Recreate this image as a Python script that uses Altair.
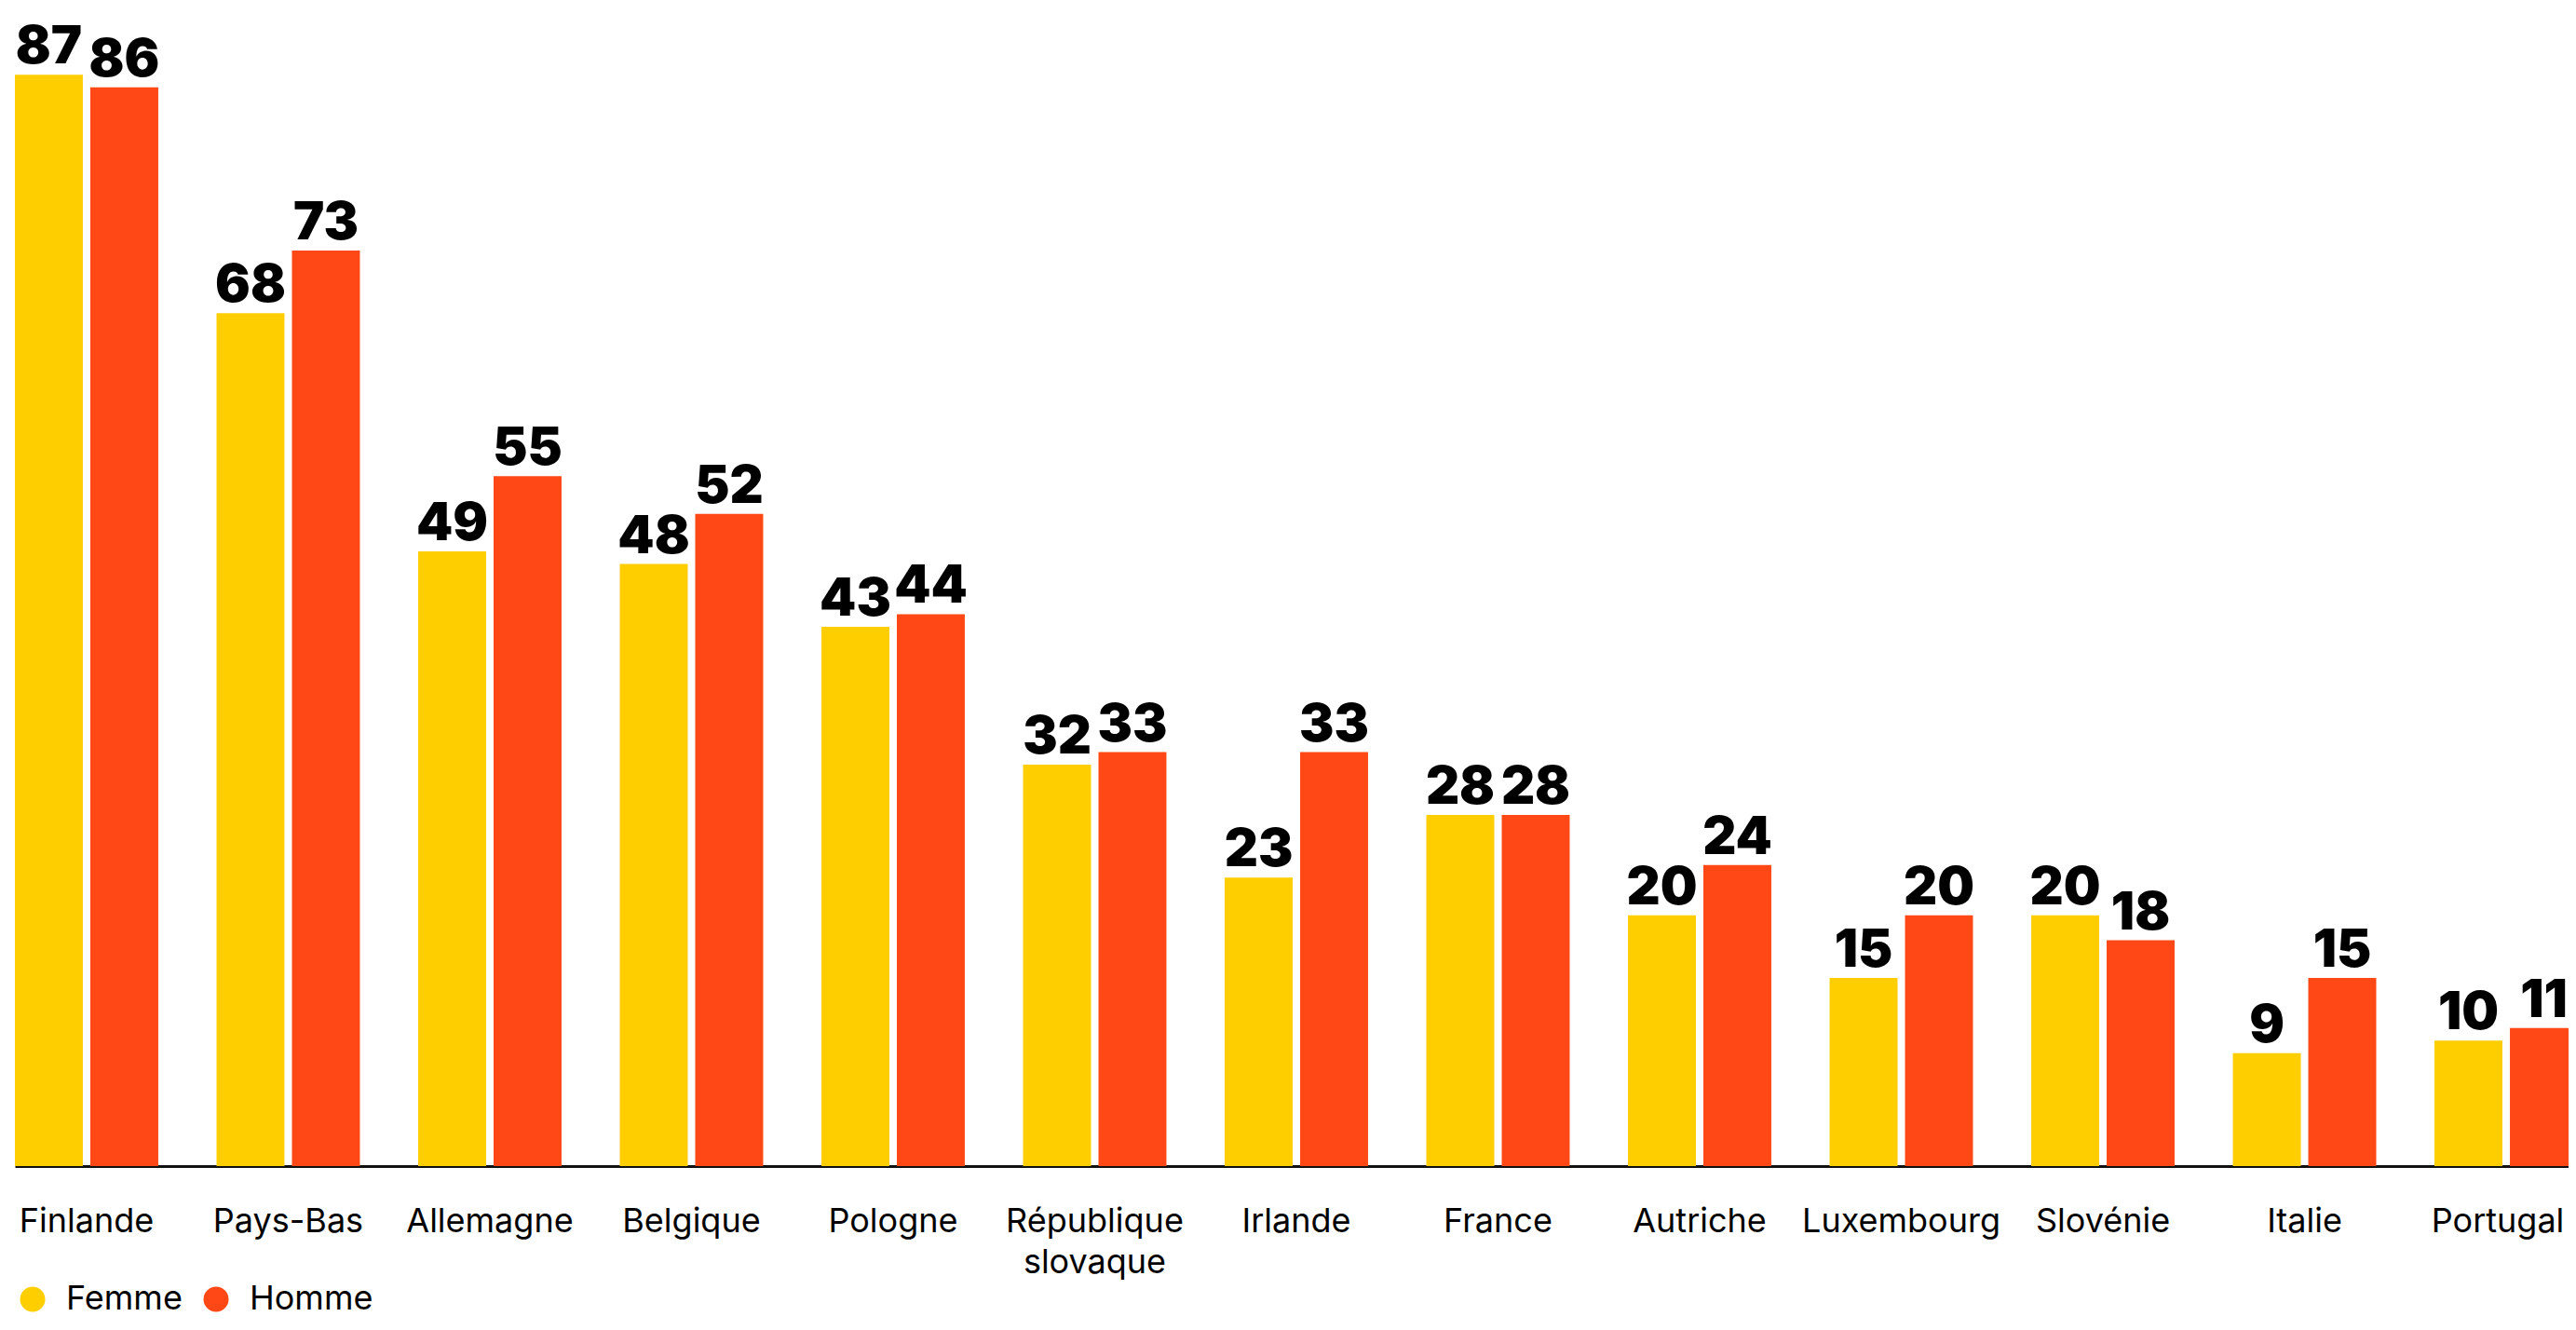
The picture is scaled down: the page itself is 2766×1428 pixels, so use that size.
import altair as alt
import pandas as pd

countries = ["Finlande", "Pays-Bas", "Allemagne", "Belgique", "Pologne",
             "République slovaque", "Irlande", "France", "Autriche",
             "Luxembourg", "Slovénie", "Italie", "Portugal"]
femme = [87, 68, 49, 48, 43, 32, 23, 28, 20, 15, 20, 9, 10]
homme = [86, 73, 55, 52, 44, 33, 33, 28, 24, 20, 18, 15, 11]
series = ["Femme", "Homme"]
colors = ["#FFCE00", "#FF4815"]

rows = []
for c, f, h in zip(countries, femme, homme):
    rows.append({"pays": c, "sexe": "Femme", "valeur": f})
    rows.append({"pays": c, "sexe": "Homme", "valeur": h})
df = pd.DataFrame(rows)

x = alt.X("pays:N", sort=countries, title=None,
          scale=alt.Scale(paddingInner=0.289, paddingOuter=0, range=[0, 2752]),
          axis=alt.Axis(labelAngle=0, ticks=False, tickSize=0, labelPadding=42,
                        labelFontSize=36, labelFont="Inter", labelColor="#000000",
                        labelLimit=400, labelLineHeight=44,
                        labelOffset={"condition": {"test": "datum.label == 'Portugal'", "value": -9}, "value": 0},
                        labelExpr="datum.label == 'République slovaque' ? ['République', 'slovaque'] : datum.label",
                        domainColor="#111111", domainWidth=3))
xo = alt.XOffset("sexe:N", sort=series,
                 scale=alt.Scale(paddingInner=0.099, paddingOuter=0))
y = alt.Y("valeur:Q", title=None, scale=alt.Scale(domain=[0, 92], nice=False),
          axis=None)

bars = alt.Chart(df).mark_bar().encode(
    x=x, xOffset=xo, y=y,
    color=alt.Color("sexe:N", sort=series,
                    scale=alt.Scale(domain=series, range=colors),
                    legend=alt.Legend(title=None, orient="none", direction="horizontal",
                                      legendX=1, legendY=1364, padding=0,
                                      symbolType="circle", symbolSize=729,
                                      symbolStrokeWidth=0, symbolOpacity=1,
                                      labelFontSize=36, labelFont="Inter",
                                      labelColor="#000000", labelOffset=18,
                                      columnPadding=18)),
)

labels = alt.Chart(df).mark_text(
    baseline="alphabetic", dy=-12, fontSize=56, font="Inter", fontWeight=900,
    color="#000000"
).encode(x=x, xOffset=xo, y=y, text=alt.Text("valeur:Q"))

chart = alt.layer(bars, labels).properties(
    width=2742, height=1239,
    autosize=alt.AutoSizeParams(type="none"),
    padding={"left": 8, "top": 5, "right": 0, "bottom": 168},
).configure_view(stroke=None).configure_axis(grid=False)

chart.save("out.html", embed_options={"renderer": "svg", "actions": False})
